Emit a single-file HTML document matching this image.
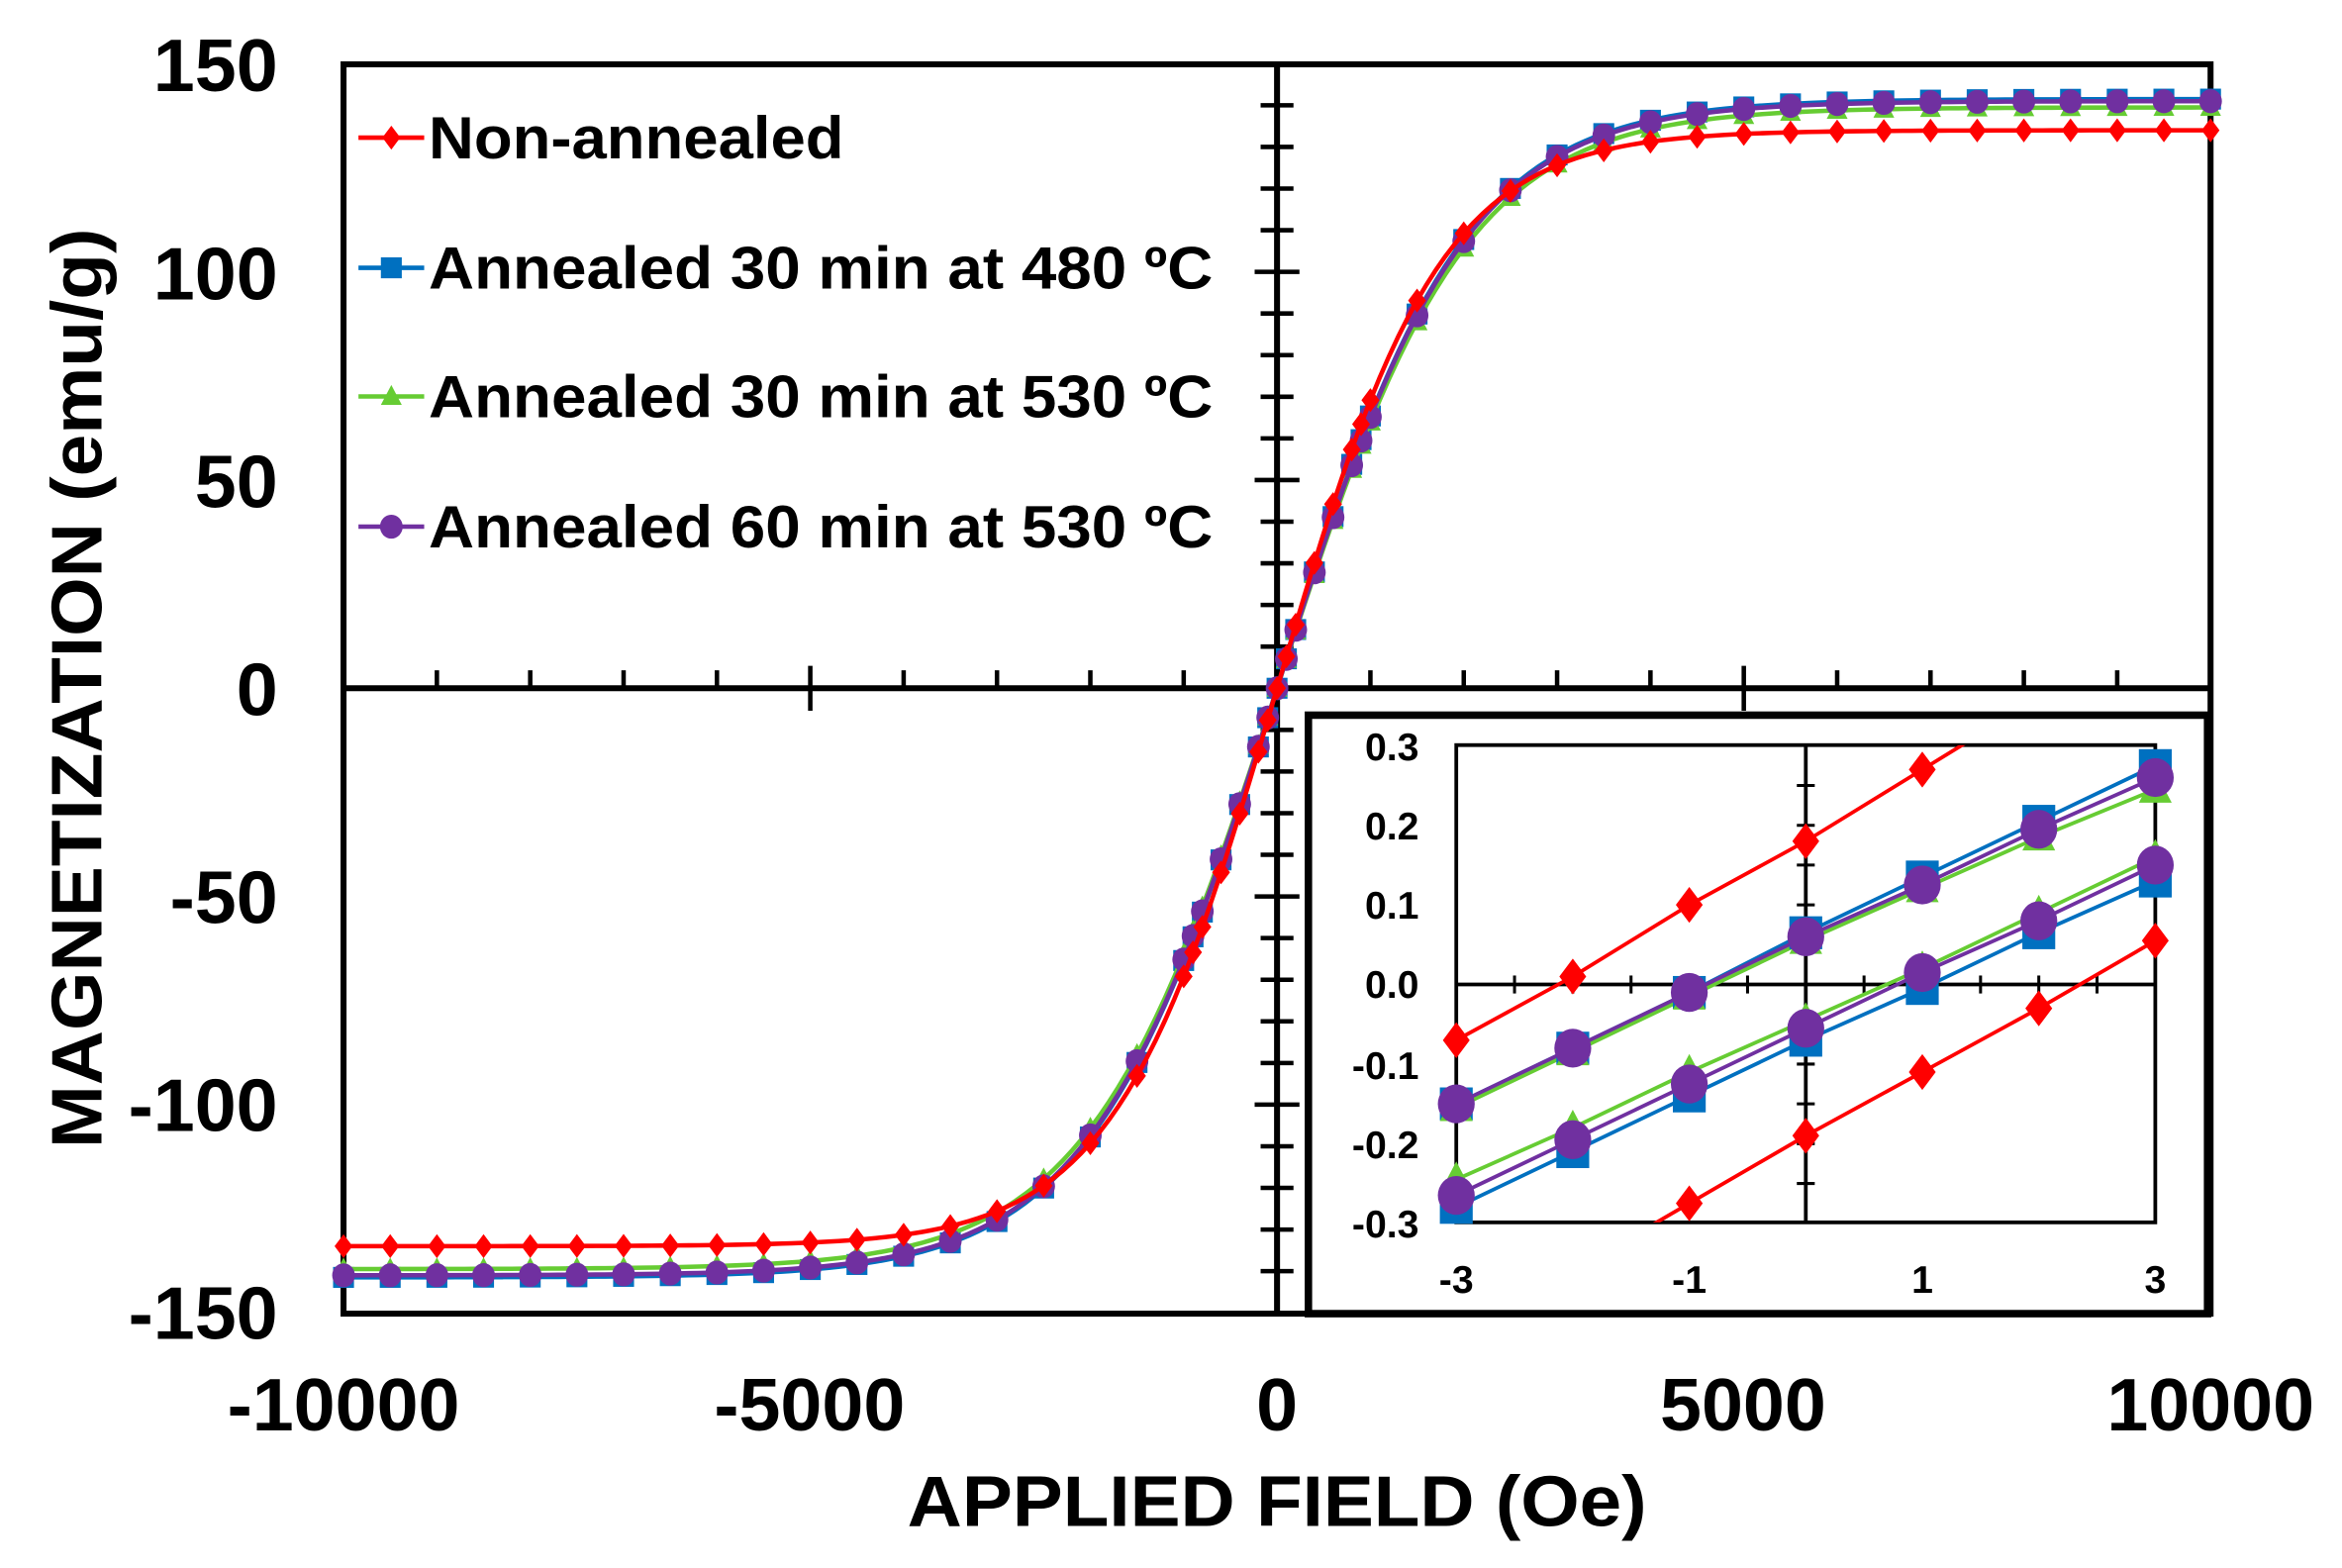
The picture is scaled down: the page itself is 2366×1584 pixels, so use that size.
<!DOCTYPE html>
<html><head><meta charset="utf-8"><style>
html,body{margin:0;padding:0;background:#fff;}
svg{display:block;}
text{font-family:"Liberation Sans",Arial,sans-serif;font-weight:bold;fill:#000;}
</style></head><body>
<svg id="s" width="2366" height="1584" viewBox="0 0 1568 1048" preserveAspectRatio="none" xmlns="http://www.w3.org/2000/svg">
<rect x="0" y="0" width="1568" height="1048" fill="#fff"/>
<rect x="230" y="43" width="1250" height="835" fill="none" stroke="#000" stroke-width="4"/>
<line x1="230" y1="460" x2="1480" y2="460" stroke="#000" stroke-width="4"/>
<line x1="855" y1="43" x2="855" y2="878" stroke="#000" stroke-width="4"/>
<g id="ticks" stroke="#000" stroke-width="3"></g>
<g id="curves"></g>
<rect x="876" y="478" width="602" height="400" fill="#fff" stroke="#000" stroke-width="5"/>
<g id="inset"></g>
<g id="legend"></g>
<g font-size="50" text-anchor="end">
<text x="186" y="61">150</text><text x="186" y="200">100</text><text x="186" y="339">50</text>
<text x="186" y="478">0</text><text x="186" y="617">-50</text><text x="186" y="756">-100</text><text x="186" y="895">-150</text>
</g>
<g font-size="50" text-anchor="middle">
<text x="230" y="956">-10000</text><text x="542" y="956">-5000</text><text x="855" y="956">0</text>
<text x="1167" y="956">5000</text><text x="1480" y="956">10000</text>
</g>
<text x="855" y="1020" font-size="48" text-anchor="middle" textLength="495" lengthAdjust="spacingAndGlyphs">APPLIED FIELD (Oe)</text>
<text transform="translate(68,460) rotate(-90)" font-size="48" text-anchor="middle" textLength="615" lengthAdjust="spacingAndGlyphs">MAGNETIZATION (emu/g)</text>
<g font-size="40">
<text x="287" y="106" textLength="278" lengthAdjust="spacingAndGlyphs">Non-annealed</text>
<text x="287" y="193" textLength="525" lengthAdjust="spacingAndGlyphs">Annealed 30 min at 480 ºC</text>
<text x="287" y="279" textLength="525" lengthAdjust="spacingAndGlyphs">Annealed 30 min at 530 ºC</text>
<text x="287" y="366" textLength="525" lengthAdjust="spacingAndGlyphs">Annealed 60 min at 530 ºC</text>
</g>
<g font-size="26" text-anchor="end">
<text x="950" y="508">0.3</text><text x="950" y="561">0.2</text><text x="950" y="614">0.1</text>
<text x="950" y="667">0.0</text><text x="950" y="721">-0.1</text><text x="950" y="774">-0.2</text><text x="950" y="827">-0.3</text>
</g>
<g font-size="26" text-anchor="middle">
<text x="975" y="864">-3</text><text x="1131" y="864">-1</text><text x="1287" y="864">1</text><text x="1443" y="864">3</text>
</g>
</svg>
<script>
var NS="http://www.w3.org/2000/svg";
function el(p,t,a){var e=document.createElementNS(NS,t);for(var k in a)e.setAttribute(k,a[k]);p.appendChild(e);return e;}
var g=function(id){return document.getElementById(id);};
var T=g("ticks");
for(var h=-9000;h<=9000;h+=1000){if(h==0)continue;var x=855+h*0.0625;var maj=(h%5000==0);
 el(T,"line",{x1:x,y1:maj?445:448,x2:x,y2:maj?475:460});}
for(var m=-140;m<=140;m+=10){if(m==0)continue;var y=460-m*2.783;var maj=(m%50==0);
 el(T,"line",{x1:maj?840:844,y1:y,x2:maj?870:866,y2:y});}
function marker(p,type,x,y,s,c){
 if(type=="d")el(p,"polygon",{points:(x)+","+(y-s)+" "+(x+s*0.75)+","+y+" "+x+","+(y+s)+" "+(x-s*0.75)+","+y,fill:c});
 else if(type=="s")el(p,"rect",{x:x-s,y:y-s,width:2*s,height:2*s,fill:c});
 else if(type=="t")el(p,"polygon",{points:x+","+(y-s*1.1)+" "+(x+s)+","+(y+s*0.8)+" "+(x-s)+","+(y+s*0.8),fill:c});
 else el(p,"ellipse",{cx:x,cy:y,rx:s*0.95,ry:s,fill:c});
}
var S=[{c:"#ff0000",t:"d",Ms:134,H0:1750,s:8},{c:"#0070c0",t:"s",Ms:141.5,H0:2000,s:7},{c:"#66cc33",t:"t",Ms:139.5,H0:2020,s:7},{c:"#7030a0",t:"c",Ms:141,H0:2000,s:8}];
var Hs=[];for(var h=-10000;h<=-3000;h+=500)Hs.push(h);
[-2500,-2000,-1500,-1000,-900,-800,-600,-400,-200,-100,0,100,200,400,600,800,900,1000,1500,2000,2500].forEach(function(v){Hs.push(v);});
for(var h=3000;h<=10000;h+=500)Hs.push(h);
var C=g("curves");
[1,2,3,0].forEach(function(i){var s=S[i];var full=[];
 for(var h=-10000;h<=10000;h+=100){full.push((855+h*0.0625)+","+(460-s.Ms*Math.tanh(h/s.H0)*2.783));}
 el(C,"polyline",{points:full.join(" "),fill:"none",stroke:s.c,"stroke-width":3});
 Hs.forEach(function(h){marker(C,s.t,855+h*0.0625,460-s.Ms*Math.tanh(h/s.H0)*2.783,s.s,s.c);});
});
var L=g("legend");var ly=[92,179,265,352];
S.forEach(function(s,i){el(L,"line",{x1:240,y1:ly[i],x2:284,y2:ly[i],stroke:s.c,"stroke-width":3});marker(L,s.t,262,ly[i],s.s,s.c);});
var I=g("inset");
el(I,"rect",{x:975,y:498,width:468,height:319,fill:"none",stroke:"#000","stroke-width":2.5});
el(I,"line",{x1:975,y1:658,x2:1443,y2:658,stroke:"#000","stroke-width":2.5});
el(I,"line",{x1:1209,y1:498,x2:1209,y2:817,stroke:"#000","stroke-width":2.5});
for(var k=-2.5;k<=2.5;k+=0.5){if(k==0)continue;var x=1209+k*78;el(I,"line",{x1:x,y1:652,x2:x,y2:664,stroke:"#000","stroke-width":2});}
for(var k=-0.25;k<=0.26;k+=0.05){if(Math.abs(k)<0.01)continue;var y=658-k*532;el(I,"line",{x1:1203,y1:y,x2:1215,y2:y,stroke:"#000","stroke-width":2});}
function IX(v){return 1209+v*78;}function IY(v){return 658-v*532;}
var D=[
 [0,[-0.07,0.01,0.10,0.18,0.27,0.36,0.45]],
 [0,[-0.44,-0.36,-0.275,-0.19,-0.11,-0.03,0.055]],
 [1,[-0.15,-0.08,-0.01,0.065,0.135,0.205,0.275]],
 [1,[-0.28,-0.21,-0.14,-0.07,-0.005,0.065,0.13]],
 [2,[-0.155,-0.085,-0.015,0.055,0.12,0.185,0.245]],
 [2,[-0.245,-0.18,-0.11,-0.045,0.02,0.09,0.16]],
 [3,[-0.15,-0.08,-0.01,0.06,0.125,0.195,0.26]],
 [3,[-0.265,-0.195,-0.125,-0.055,0.015,0.08,0.15]]];
var cp=el(I,"clipPath",{id:"ic"});el(cp,"rect",{x:960,y:498,width:500,height:319});
var G=el(I,"g",{"clip-path":"url(#ic)"});
var sz={d:12,s:11,t:11,c:13};
D.forEach(function(d){var s=S[d[0]];var p=[];d[1].forEach(function(v,j){p.push(IX(j-3)+","+IY(v));});
 el(G,"polyline",{points:p.join(" "),fill:"none",stroke:s.c,"stroke-width":2.5});});
var G2=el(I,"g",{});
D.forEach(function(d){var s=S[d[0]];d[1].forEach(function(v,j){if(v>0.31||v<-0.31)return;marker(G2,s.t,IX(j-3),IY(v),sz[s.t],s.c);});});
</script>
</body></html>
